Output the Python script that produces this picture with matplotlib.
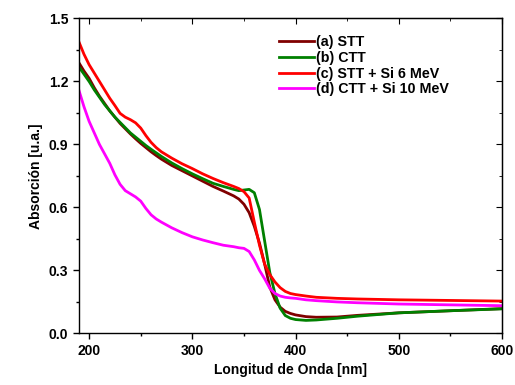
import numpy as np
import matplotlib
matplotlib.use('Agg')
import matplotlib.pyplot as plt
from matplotlib.ticker import MultipleLocator, FormatStrFormatter

plt.rcParams['font.family'] = ['Liberation Sans', 'DejaVu Sans']
plt.rcParams['font.weight'] = 'bold'

# wavelength grid (nm)
wl = [190, 195, 200, 205, 210, 215, 220, 225, 230, 235, 240, 245, 250, 255, 260,
      265, 270, 280, 290, 300, 310, 320, 330, 340, 345, 350, 355, 360, 365, 370,
      375, 380, 385, 390, 395, 400, 410, 420, 440, 460, 500, 550, 600]

# absorbance values
stt = [1.29, 1.25, 1.215, 1.17, 1.13, 1.095, 1.06, 1.03, 1.0, 0.975, 0.95, 0.927,
       0.905, 0.885, 0.865, 0.847, 0.83, 0.80, 0.775, 0.75, 0.725, 0.70, 0.678,
       0.655, 0.64, 0.615, 0.575, 0.51, 0.43, 0.33, 0.22, 0.16, 0.125, 0.105,
       0.095, 0.088, 0.08, 0.077, 0.078, 0.086, 0.098, 0.108, 0.118]
ctt = [1.27, 1.235, 1.2, 1.16, 1.125, 1.09, 1.06, 1.03, 1.005, 0.98, 0.955, 0.935,
       0.915, 0.895, 0.877, 0.86, 0.843, 0.812, 0.785, 0.76, 0.737, 0.715, 0.70,
       0.686, 0.68, 0.683, 0.686, 0.67, 0.59, 0.44, 0.29, 0.19, 0.12, 0.085,
       0.072, 0.066, 0.062, 0.064, 0.072, 0.082, 0.098, 0.108, 0.117]
stt_si6 = [1.39, 1.33, 1.28, 1.24, 1.2, 1.16, 1.12, 1.085, 1.048, 1.03, 1.018,
           1.003, 0.978, 0.942, 0.91, 0.885, 0.865, 0.835, 0.808, 0.785, 0.76,
           0.738, 0.718, 0.70, 0.69, 0.675, 0.645, 0.53, 0.42, 0.33, 0.28, 0.245,
           0.218, 0.2, 0.19, 0.185, 0.178, 0.172, 0.167, 0.164, 0.16, 0.157, 0.154]
ctt_si10 = [1.16, 1.08, 1.01, 0.955, 0.9, 0.855, 0.81, 0.755, 0.71, 0.68, 0.665,
            0.65, 0.63, 0.595, 0.565, 0.545, 0.53, 0.503, 0.48, 0.46, 0.445, 0.432,
            0.42, 0.413, 0.408, 0.405, 0.39, 0.35, 0.3, 0.26, 0.215, 0.19, 0.178,
            0.172, 0.169, 0.167, 0.16, 0.156, 0.15, 0.146, 0.14, 0.136, 0.132]

series = [(stt, '#800000', '(a) STT'),
          (ctt, '#008000', '(b) CTT'),
          (stt_si6, '#ff0000', '(c) STT + Si 6 MeV'),
          (ctt_si10, '#ff00ff', '(d) CTT + Si 10 MeV')]

fig = plt.figure(figsize=(5.15, 3.85), dpi=100)
ax = fig.add_axes([0.153, 0.134, 0.822, 0.818])

for y, c, lab in series:
    ax.plot(wl, y, color=c, lw=2.0, label=lab, solid_joinstyle='round')

ax.set_xlim(190, 600)
ax.set_ylim(0, 1.5)
ax.xaxis.set_major_locator(MultipleLocator(100))
ax.xaxis.set_minor_locator(MultipleLocator(50))
ax.yaxis.set_major_locator(MultipleLocator(0.3))
ax.yaxis.set_minor_locator(MultipleLocator(0.15))
ax.yaxis.set_major_formatter(FormatStrFormatter('%.1f'))

ax.tick_params(which='both', direction='out', top=False, right=False, labelsize=10, width=1)
ax.tick_params(which='major', length=4)
ax.tick_params(which='minor', length=2.5)
for side in ax.spines.values():
    side.set_linewidth(1)

# inward ticks on top and right
axt = ax.secondary_xaxis('top')
axt.xaxis.set_major_locator(MultipleLocator(100))
axt.xaxis.set_minor_locator(MultipleLocator(50))
axt.tick_params(which='both', direction='in', labeltop=False)
axt.tick_params(which='major', length=4)
axt.tick_params(which='minor', length=2.5)
axr = ax.secondary_yaxis('right')
axr.yaxis.set_major_locator(MultipleLocator(0.3))
axr.yaxis.set_minor_locator(MultipleLocator(0.15))
axr.tick_params(which='both', direction='in', labelright=False)
axr.tick_params(which='major', length=4)
axr.tick_params(which='minor', length=2.5)

ax.set_xlabel('Longitud de Onda [nm]', fontsize=10, fontweight='bold')
ax.set_ylabel('Absorción [u.a.]', fontsize=10, fontweight='bold')

ax.legend(loc='upper left', bbox_to_anchor=(0.46, 0.965), frameon=False,
          fontsize=10.3, handlelength=2.4, handletextpad=0.15, labelspacing=0.12,
          borderaxespad=0)

fig.savefig('out.png', dpi=100)
